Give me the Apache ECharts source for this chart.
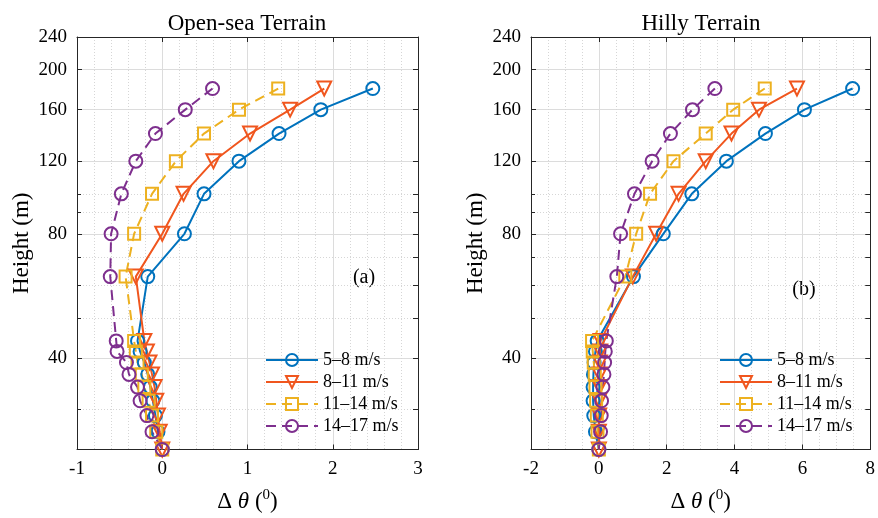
<!DOCTYPE html>
<html>
<head>
<meta charset="utf-8">
<script src="https://cdn.jsdelivr.net/npm/echarts@6/dist/echarts.min.js"></script>
<style>
  html, body { margin: 0; padding: 0; background: #fff; }
  #chart { width: 878px; height: 518px; }
</style>
</head>
<body>
<div id="chart"></div>
<script>
  // measurement heights (m)
  const heights = [180, 160, 140, 120, 100, 80, 63, 44, 41.5, 39, 36.5, 34, 31.5, 29, 26.5, 24];
  const seriesNames = ['5\u20138 m/s', '8\u201311 m/s', '11\u201314 m/s', '14\u201317 m/s'];

  // open-sea terrain, delta theta
  const seaV1 = [2.47, 1.86, 1.37, 0.90, 0.49, 0.26, -0.17, -0.29, -0.26, -0.21, -0.17, -0.14, -0.11, -0.08, -0.05, 0];
  const seaV2 = [1.90, 1.50, 1.03, 0.60, 0.25, 0.00, -0.31, -0.21, -0.18, -0.15, -0.12, -0.09, -0.07, -0.05, -0.03, 0];
  const seaV3 = [1.36, 0.90, 0.49, 0.16, -0.12, -0.33, -0.43, -0.33, -0.31, -0.29, -0.24, -0.21, -0.16, -0.12, -0.07, 0];
  const seaV4 = [0.59, 0.27, -0.08, -0.31, -0.48, -0.60, -0.61, -0.54, -0.53, -0.42, -0.39, -0.29, -0.26, -0.18, -0.12, 0];

  // hilly terrain, delta theta
  const hillV1 = [7.48, 6.06, 4.91, 3.76, 2.74, 1.90, 1.02, -0.05, -0.10, -0.14, -0.16, -0.17, -0.17, -0.15, -0.10, 0];
  const hillV2 = [5.84, 4.72, 3.91, 3.15, 2.35, 1.69, 1.00, 0.05, 0.04, 0.03, 0.02, 0.02, 0.01, 0.01, 0.00, 0];
  const hillV3 = [4.89, 3.96, 3.15, 2.20, 1.51, 1.10, 0.78, -0.20, -0.18, -0.15, -0.12, -0.10, -0.08, -0.06, -0.04, 0];
  const hillV4 = [3.42, 2.76, 2.11, 1.57, 1.05, 0.64, 0.53, 0.22, 0.19, 0.17, 0.15, 0.12, 0.08, 0.07, 0.05, 0];

  // y tick labels / grid
  const yMajorTicks = [40, 80, 120, 160, 200, 240];
  const yMinorTicks = [30, 50, 60, 70, 90, 100];
  const yMin = 24, yMax = 240;

  const colors = ['#0072BD', '#F0561E', '#EDB120', '#7E2F8E'];
  const symbols = ['circle', 'triangle', 'rect', 'circle'];
  const symbolSizes = [13, 14, 12, 13];
  const symbolRot = [0, 180, 0, 0];
  const dashed = [false, false, true, true];

  const font = "'Liberation Serif', 'Times New Roman', serif";
  const boxColor = '#262626';
  const lg = v => Math.log10(v);

  function xAxes (min, max, interval, minorSplit) {
    return [{
      type: 'value', position: 'bottom', min: min, max: max, interval: interval,
      axisLine: { onZero: false, lineStyle: { color: boxColor, width: 1 } },
      axisTick: { inside: true, length: 5, lineStyle: { color: boxColor } },
      axisLabel: { fontFamily: font, fontSize: 19, color: '#000', margin: 10 },
      splitLine: { show: true, lineStyle: { color: '#DCDCDC', width: 1 } },
      minorTick: { show: false, splitNumber: minorSplit },
      minorSplitLine: { show: true, lineStyle: { color: '#D6D6D6', width: 1, type: [1, 2] } },
      name: '{n|\u0394 }{i|\u03b8}{n| (}{s|0}{n|)}',
      nameLocation: 'middle', nameGap: 38,
      nameTextStyle: {
        rich: {
          n: { fontFamily: font, fontSize: 23, color: '#000' },
          i: { fontFamily: font, fontSize: 23, fontStyle: 'italic', color: '#000' },
          s: { fontFamily: font, fontSize: 15, color: '#000', padding: [0, 0, 13, 0] }
        }
      }
    }, {
      type: 'value', position: 'top', min: min, max: max, interval: interval,
      axisLine: { onZero: false, lineStyle: { color: boxColor, width: 1 } },
      axisTick: { inside: true, length: 5, lineStyle: { color: boxColor } },
      axisLabel: { show: false },
      splitLine: { show: false }
    }]
  }

  function yAxes () {
    const fmt = v => String(Math.round(Math.pow(10, v)));
    return [{
      // data axis (log scale)
      type: 'log', logBase: 10, min: yMin, max: yMax, show: false,
      axisLine: { onZero: false }
    }, {
      type: 'value', position: 'left', min: lg(yMin), max: lg(yMax),
      axisLine: { show: true, onZero: false, lineStyle: { color: boxColor, width: 1 } },
      axisTick: { inside: true, length: 5, customValues: yMajorTicks.map(lg), lineStyle: { color: boxColor } },
      axisLabel: { customValues: yMajorTicks.map(lg), formatter: fmt, fontFamily: font, fontSize: 19, color: '#000', margin: 10 },
      splitLine: { show: true, lineStyle: { color: '#DCDCDC', width: 1 } },
      name: 'Height (m)', nameLocation: 'middle', nameGap: 44,
      nameTextStyle: { fontFamily: font, fontSize: 23, color: '#000' }
    }, {
      type: 'value', position: 'left', min: lg(yMin), max: lg(yMax),
      axisLine: { show: false, onZero: false },
      axisTick: { inside: true, length: 4, customValues: yMinorTicks.map(lg), lineStyle: { color: boxColor } },
      axisLabel: { show: false },
      splitLine: { show: true, lineStyle: { color: '#D6D6D6', width: 1, type: [1, 2] } }
    }, {
      type: 'value', position: 'right', min: lg(yMin), max: lg(yMax),
      axisLine: { show: true, onZero: false, lineStyle: { color: boxColor, width: 1 } },
      axisTick: { inside: true, length: 5, customValues: yMajorTicks.concat(yMinorTicks).map(lg), lineStyle: { color: boxColor } },
      axisLabel: { show: false },
      splitLine: { show: false }
    }]
  }

  function withGrid (axes, g) {
    axes.forEach(a => { a.gridIndex = g })
    return axes
  }

  function makeSeries (vals, xIdx, yIdx) {
    return vals.map((v, i) => ({
      name: seriesNames[i],
      type: 'line',
      xAxisIndex: xIdx,
      yAxisIndex: yIdx,
      data: v.map((x, k) => [x, heights[k]]),
      symbol: symbols[i],
      symbolSize: symbolSizes[i],
      symbolRotate: symbolRot[i],
      showAllSymbol: true,
      lineStyle: { color: colors[i], width: 2, type: dashed[i] ? [10, 6] : 'solid' },
      itemStyle: { color: 'rgba(255,255,255,0)', borderColor: colors[i], borderWidth: 2 },
      emphasis: { disabled: true },
      animation: false,
      z: 3
    }))
  }

  const legendBase = {
    orient: 'vertical', top: 346, itemWidth: 52, itemHeight: 15, itemGap: 4,
    textStyle: { fontFamily: font, fontSize: 18, color: '#000' },
    data: seriesNames
  }

  const option = {
    backgroundColor: '#fff',
    animation: false,
    grid: [
      { left: 77, top: 37, width: 341, height: 415 },
      { left: 531, top: 37, width: 341, height: 415 }
    ],
    xAxis: withGrid(xAxes(-1, 3, 1, 5), 0).concat(withGrid(xAxes(-2, 8, 2, 4), 1)),
    yAxis: withGrid(yAxes(), 0).concat(withGrid(yAxes(), 1)),
    legend: [
      Object.assign({ left: 260 }, legendBase),
      Object.assign({ left: 714 }, legendBase)
    ],
    graphic: [
      { type: 'text', x: 247, y: 24, style: { text: 'Open-sea Terrain', font: '23px ' + font, fill: '#000', align: 'center', verticalAlign: 'middle' } },
      { type: 'text', x: 701, y: 24, style: { text: 'Hilly Terrain', font: '23px ' + font, fill: '#000', align: 'center', verticalAlign: 'middle' } },
      { type: 'text', x: 364, y: 278, style: { text: '(a)', font: '20px ' + font, fill: '#000', align: 'center', verticalAlign: 'middle' } },
      { type: 'text', x: 804, y: 290, style: { text: '(b)', font: '20px ' + font, fill: '#000', align: 'center', verticalAlign: 'middle' } }
    ],
    series: makeSeries([seaV1, seaV2, seaV3, seaV4], 0, 0)
      .concat(makeSeries([hillV1, hillV2, hillV3, hillV4], 2, 4))
  }

  const chart = echarts.init(document.getElementById('chart'))
  chart.setOption(option)
</script>
</body>
</html>
